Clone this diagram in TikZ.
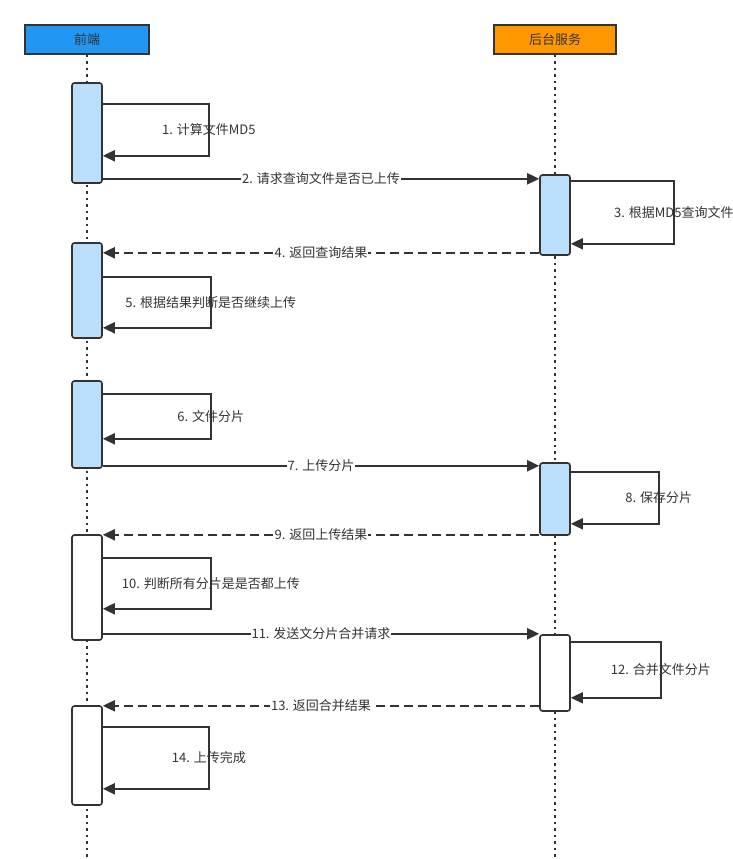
\documentclass[tikz,border=0pt]{standalone}
\usepackage{fontspec}
\setmainfont{Noto Sans CJK SC}
\usetikzlibrary{arrows.meta}
\definecolor{headblue}{HTML}{2196F3}
\definecolor{headorange}{HTML}{FF9800}
\definecolor{actblue}{HTML}{BBDEFB}
\definecolor{ink}{HTML}{333333}

\begin{document}
\begin{tikzpicture}[x=1pt,y=-1pt,
	every node/.style={font=\fontsize{13}{15}\selectfont,text=ink},
	head/.style={draw=ink,line width=1.8pt,minimum height=29pt,inner sep=0pt},
	act/.style={draw=ink,line width=1.6pt,rounded corners=2.5pt,minimum width=30pt,inner sep=0pt,fill=white},
	life/.style={ink,line width=1.5pt,dash pattern=on 2.5pt off 4pt},
	msg/.style={ink,line width=2pt,-{Triangle[length=12pt,width=11pt]}},
	reply/.style={msg,dash pattern=on 9pt off 5pt},
	lbl/.style={fill=white,inner sep=1pt}]
	\useasboundingbox (0,0) rectangle (733,859);
	% participants
	\node[head,fill=headblue,minimum width=124pt] (front) at (87,39.5) {前端};
	\node[head,fill=headorange,minimum width=122pt] (back) at (555,39.5) {后台服务};
	\coordinate (fend) at (87,859);
	\coordinate (bend) at (555,859);
	\draw[life] (front) -- (fend);
	\draw[life] (back) -- (bend);
	% activations
	\node[act,fill=actblue,minimum height=100pt] (fa1) at (87,133) {};
	\node[act,fill=actblue,minimum height=95pt] (fa2) at (87,290.5) {};
	\node[act,fill=actblue,minimum height=87pt] (fa3) at (87,424.5) {};
	\node[act,minimum height=105pt] (fa4) at (87,587.5) {};
	\node[act,minimum height=99pt] (fa5) at (87,755.5) {};
	\node[act,fill=actblue,minimum height=80pt] (ba1) at (555,215) {};
	\node[act,fill=actblue,minimum height=72pt] (ba2) at (555,499) {};
	\node[act,minimum height=76pt] (ba3) at (555,673) {};
	% messages
	\draw[msg] ([yshift=-22pt]fa1.north east) -- ++(106,0) |- node[pos=.25]{1. 计算文件MD5} ([yshift=28pt]fa1.south east);
	\draw[msg] ([yshift=5pt]fa1.south east) -- node[lbl]{2. 请求查询文件是否已上传} ([yshift=5pt]fa1.south east -| ba1.west);
	\draw[msg] ([yshift=-7pt]ba1.north east) -- ++(103,0) |- node[pos=.25]{3. 根据MD5查询文件} ([yshift=12pt]ba1.south east);
	\draw[reply] ([yshift=3pt]ba1.south west) -- node[lbl]{4. 返回查询结果} ([yshift=3pt]ba1.south west -| fa2.east);
	\draw[msg] ([yshift=-35pt]fa2.north east) -- ++(108,0) |- node[pos=.25]{5. 根据结果判断是否继续上传} ([yshift=11pt]fa2.south east);
	\draw[msg] ([yshift=-14pt]fa3.north east) -- ++(108,0) |- node[pos=.25]{6. 文件分片} ([yshift=30pt]fa3.south east);
	\draw[msg] ([yshift=3pt]fa3.south east) -- node[lbl]{7. 上传分片} ([yshift=3pt]fa3.south east -| ba2.west);
	\draw[msg] ([yshift=-10pt]ba2.north east) -- ++(88,0) |- node[pos=.25]{8. 保存分片} ([yshift=12pt]ba2.south east);
	\draw[reply] ([yshift=1pt]ba2.south west) -- node[lbl]{9. 返回上传结果} ([yshift=1pt]ba2.south west -| fa4.east);
	\draw[msg] ([yshift=-24pt]fa4.north east) -- ++(108,0) |- node[pos=.25]{10. 判断所有分片是是否都上传} ([yshift=32pt]fa4.south east);
	\draw[msg] ([yshift=7pt]fa4.south east) -- node[lbl]{11. 发送文分片合并请求} ([yshift=7pt]fa4.south east -| ba3.west);
	\draw[msg] ([yshift=-8pt]ba3.north east) -- ++(90,0) |- node[pos=.25]{12. 合并文件分片} ([yshift=14pt]ba3.south east);
	\draw[reply] ([yshift=6pt]ba3.south west) -- node[lbl]{13. 返回合并结果} ([yshift=6pt]ba3.south west -| fa5.east);
	\draw[msg] ([yshift=-22pt]fa5.north east) -- ++(106,0) |- node[pos=.25]{14. 上传完成} ([yshift=17pt]fa5.south east); % done
\end{tikzpicture}
\end{document}
